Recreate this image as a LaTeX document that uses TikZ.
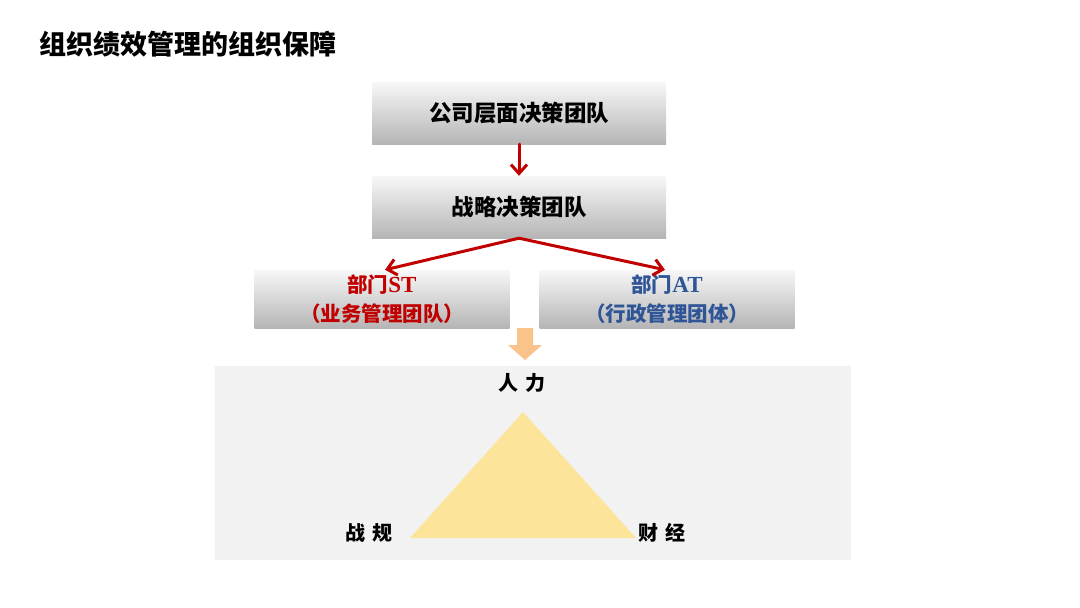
\documentclass[tikz,border=0pt]{standalone}
\usepackage{fontspec}
\setmainfont{Noto Sans CJK SC}
\newfontfamily\latinserif{Liberation Serif}
\usetikzlibrary{arrows.meta}

\begin{document}
\begin{tikzpicture}
    [x=1pt,y=-1pt,line cap=round,
    % Styles
    team box/.style={rectangle, inner sep=0pt, top color=gray!6, bottom color=gray!58,
                     font=\bfseries\fontsize{22.5}{26}\selectfont},
    top box/.style={team box, minimum width=294, minimum height=62},
    dept box/.style={team box, minimum width=255, minimum height=58, align=center,
                     font=\bfseries\fontsize{20.5}{29}\selectfont},
    flow arrow/.style={-{Straight Barb[length=9pt,width=16pt]}, line width=3pt, draw=arrowred},
    corner text/.style={font=\bfseries\fontsize{20}{24}\selectfont}]

    % Colors
    \definecolor{arrowred}{HTML}{C00000}
    \definecolor{deptblue}{HTML}{2F5597}
    \definecolor{panelgray}{HTML}{F2F2F2}
    \definecolor{orangearrow}{HTML}{F9C38A}
    \definecolor{triyellow}{HTML}{FCE59A}

    \useasboundingbox (0,0) rectangle (1080,608);

    % Title
    \node[anchor=west, font=\bfseries\fontsize{27}{31}\selectfont] (title) at (36,44) {组织绩效管理的组织保障};

    % Team boxes
    \node[top box] (company) at (519,113) {公司层面决策团队};
    \node[top box] (strategy) at (519,207) {战略决策团队};
    \node[dept box, text=arrowred] (st) at (382,299) {部门{\latinserif\fontsize{23}{29}\selectfont ST}\\（业务管理团队）};
    \node[dept box, text=deptblue] (at) at (667,299) {部门{\latinserif\fontsize{23}{29}\selectfont AT}\\（行政管理团体）};

    \draw[flow arrow] (company.south) -- (strategy.north);
    \draw[flow arrow] (strategy.south) -- ([xshift=3pt]st.north);
    \draw[flow arrow] (strategy.south) -- ([xshift=-2pt]at.north);

    % Panel
    \fill[panelgray] (215,366) rectangle (851,560);
    \coordinate (down) at (517,328);
    \fill[orangearrow] (down) -- ++(16,0) -- ++(0,17) -- ++(9,0)
        -- ++(-17,15) -- ++(-17,-15) -- ++(9,0) -- cycle;

    % Triangle
    \coordinate (apex) at (523,412);
    \coordinate (left) at (410,538);
    \coordinate (right) at (636,538);
    \fill[triyellow] (apex) -- (left) -- (right) -- cycle;

    \node[corner text] (hr) at (522,383) {人\,\,力};
    \node[corner text] (plan) at (369,533) {战\,\,规};
    \node[corner text] (fin) at (662,533) {财\,\,经};
\end{tikzpicture}
\end{document}
